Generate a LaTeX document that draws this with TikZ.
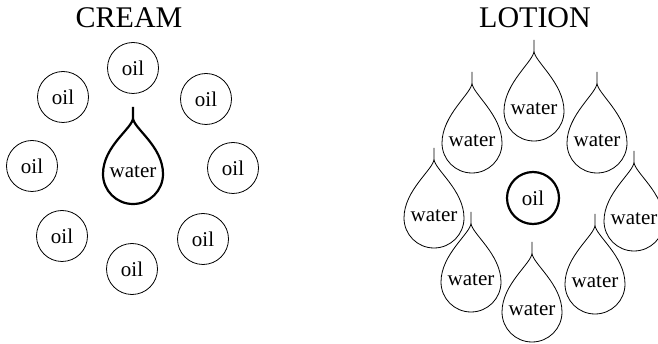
\documentclass[tikz,border=0pt]{standalone}
\usepackage{fontspec}
\setmainfont{Liberation Serif}
\tikzset{
  thinline/.style={line width=0.8pt, draw=black},
  thickline/.style={line width=2.2pt, draw=black},
  lbl/.style={inner sep=0pt, font=\fontsize{21}{21}\selectfont},
  ttl/.style={inner sep=0pt, font=\fontsize{30}{30}\selectfont},
  oilcirc/.style={circle, minimum size=51pt, inner sep=0pt, font=\fontsize{21}{21}\selectfont}
}
% #1 style, #2 x, #3 tip y, #4 name, #5 bulb centre below tip
\newcommand{\drawdrop}[5]{%
  \begin{scope}[shift={(#2,#3)}]
    \draw[#1] (0,0) -- (0,11)
      .. controls (0,21) and (30,#5-28) .. (30,#5)
      .. controls (30,#5+16.6) and (16.6,#5+30) .. (0,#5+30)
      .. controls (-16.6,#5+30) and (-30,#5+16.6) .. (-30,#5)
      .. controls (-30,#5-28) and (0,21) .. (0,11);
    \node[lbl] (#4) at (0,#5-2) {water};
  \end{scope}}
\begin{document}
\begin{tikzpicture}[x=1pt,y=-1pt]
  \useasboundingbox (0,0) rectangle (658,344);
  % titles
  \node[ttl] (cream) at (129,18) {CREAM};
  \node[ttl] (lotion) at (535,18) {LOTION};
  % cream: oil circles
  \node[oilcirc, thinline] (o1) at (133,68) {oil};
  \node[oilcirc, thinline] (o2) at (63,97) {oil};
  \node[oilcirc, thinline] (o3) at (206,99) {oil};
  \node[oilcirc, thinline] (o4) at (32,166) {oil};
  \node[oilcirc, thinline] (o5) at (233,168) {oil};
  \node[oilcirc, thinline] (o6) at (62,236) {oil};
  \node[oilcirc, thinline] (o7) at (203,239) {oil};
  \node[oilcirc, thinline] (o8) at (132,269) {oil};
  % cream: water drop
  \drawdrop{thickline}{133}{107}{cw}{67}
  % lotion: oil
  \node[oilcirc, thickline, minimum size=52pt] (lo) at (533,198) {oil};
  % lotion: water drops
  \drawdrop{thinline}{534}{40}{w1}{71}
  \drawdrop{thinline}{472}{72}{w2}{71}
  \drawdrop{thinline}{597}{72}{w3}{71}
  \drawdrop{thinline}{434}{148}{w4}{70}
  \drawdrop{thinline}{634}{151}{w5}{70}
  \drawdrop{thinline}{471}{212}{w6}{70}
  \drawdrop{thinline}{532}{242}{w7}{70}
  \drawdrop{thinline}{595}{214}{w8}{70}
\end{tikzpicture}
\end{document}
